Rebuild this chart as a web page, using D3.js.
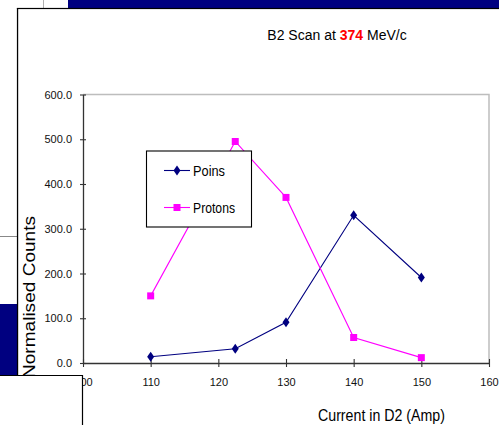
<!DOCTYPE html>
<html>
<head>
<meta charset="utf-8">
<script src="https://cdn.jsdelivr.net/npm/d3@7/dist/d3.min.js"></script>
<style>
  html, body { margin: 0; padding: 0; background: #fff; }
  svg { display: block; font-family: "Liberation Sans", Arial, sans-serif; }
</style>
</head>
<body>
<svg id="chart" width="499" height="425"></svg>
<script>
// Beam-line D2 current scan, normalised counts per particle type
const currents = [110, 122.5, 130, 140, 150];
const pions = [14, 32, 91, 330, 191];
const protons = [150, 495, 370, 57, 12];
const xTicks = [100, 110, 120, 130, 140, 150, 160];
const yTicks = [0, 100, 200, 300, 400, 500, 600];
const seriesNames = ["Poins", "Protons"];
const seriesColors = ["#000080", "#ff00ff"];

const svg = d3.select("#chart");

// slide furniture around the chart frame
svg.append("rect").attr("x", 68).attr("y", 0).attr("width", 431).attr("height", 8).attr("fill", "#000080");
svg.append("line").attr("x1", 43.5).attr("x2", 43.5).attr("y1", 0).attr("y2", 8).attr("stroke", "#b0b0b0");

// chart frame
svg.append("rect").attr("x", 17.5).attr("y", 8.5).attr("width", 490).attr("height", 430)
  .attr("fill", "#fff").attr("stroke", "#000").attr("stroke-width", 1.2);

const x = d3.scaleLinear().domain([100, 160]).range([83, 489]);
const y = d3.scaleLinear().domain([0, 600]).range([363, 94.5]);

// plot area border (top / right)
svg.append("path")
  .attr("d", `M${x(100)},${y(600)}H${x(160)}V${y(0)}`)
  .attr("fill", "none").attr("stroke", "#bdbdbd").attr("stroke-width", 1.5);

// title
const title = svg.append("text").attr("x", 337).attr("y", 40).attr("text-anchor", "middle")
  .attr("font-size", 14).attr("fill", "#000");
title.append("tspan").text("B2 Scan at ");
title.append("tspan").attr("fill", "#ff0000").attr("font-weight", "bold").text("374");
title.append("tspan").text(" MeV/c");

// axes
const yAxis = d3.axisLeft(y).tickValues(yTicks).tickFormat(d3.format(".1f"))
  .tickSizeInner(3).tickSizeOuter(0).tickPadding(8);
const gy = svg.append("g").attr("transform", `translate(${x(100)},0)`).call(yAxis);
gy.selectAll(".tick line").attr("x2", 3).attr("x1", -3);
const xAxis = d3.axisBottom(x).tickValues(xTicks).tickFormat(d3.format("d"))
  .tickSizeInner(4).tickSizeOuter(0).tickPadding(11);
const gx = svg.append("g").attr("transform", `translate(0,${y(0)})`).call(xAxis);
gx.selectAll(".tick line").attr("y1", -4).attr("y2", 4);
[gx, gy].forEach(g => {
  g.select(".domain").attr("stroke", "#333").attr("stroke-width", 1.3);
  g.selectAll(".tick line").attr("stroke", "#333").attr("stroke-width", 1.1);
  g.selectAll("text").attr("font-size", 11).attr("fill", "#111")
    .attr("font-family", "\"Liberation Sans\", Arial, sans-serif");
});

// axis titles
svg.append("text").attr("x", 381.5).attr("y", 421).attr("text-anchor", "middle")
  .attr("font-size", 16).attr("textLength", 127).attr("lengthAdjust", "spacingAndGlyphs")
  .attr("fill", "#000").text("Current in D2 (Amp)");
svg.append("text").attr("transform", "translate(35,297) rotate(-90)").attr("text-anchor", "middle")
  .attr("font-size", 16).attr("textLength", 162).attr("lengthAdjust", "spacingAndGlyphs")
  .attr("fill", "#000").text("Normalised Counts");

// series
const series = [pions, protons];
const line = d3.line().x((d, i) => x(currents[i])).y(d => y(d));
const diamond = "M0,-5L3.5,0L0,5L-3.5,0Z";
const square = "M-3.5,-3.5H3.5V3.5H-3.5Z";
const shapes = [diamond, square];

series.forEach((vals, s) => {
  svg.append("path").datum(vals).attr("d", line)
    .attr("fill", "none").attr("stroke", seriesColors[s]).attr("stroke-width", 1.1);
  svg.append("g").selectAll("path").data(vals).join("path")
    .attr("transform", (d, i) => `translate(${x(currents[i])},${y(d)})`)
    .attr("d", shapes[s]).attr("fill", seriesColors[s]);
});

// legend
const legendWidths = [32, 42];
const lg = svg.append("g");
lg.append("rect").attr("x", 146.5).attr("y", 151).attr("width", 105).attr("height", 76)
  .attr("fill", "#fff").attr("stroke", "#000").attr("stroke-width", 1.1);
seriesNames.forEach((name, s) => {
  const ly = 170.5 + s * 37;
  lg.append("line").attr("x1", 164).attr("x2", 190).attr("y1", ly).attr("y2", ly)
    .attr("stroke", seriesColors[s]).attr("stroke-width", 1.1);
  lg.append("path").attr("transform", `translate(177,${ly})`).attr("d", shapes[s]).attr("fill", seriesColors[s]);
  lg.append("text").attr("x", 193).attr("y", ly + 5.5).attr("font-size", 14)
    .attr("textLength", legendWidths[s]).attr("lengthAdjust", "spacingAndGlyphs")
    .attr("fill", "#000").text(name);
});

// surrounding slide elements at the left edge
svg.append("rect").attr("x", 0).attr("y", 9).attr("width", 17).attr("height", 366).attr("fill", "#fff");
svg.append("line").attr("x1", 0).attr("x2", 17).attr("y1", 236.5).attr("y2", 236.5).attr("stroke", "#888");
svg.append("rect").attr("x", 0).attr("y", 304).attr("width", 17).attr("height", 71).attr("fill", "#000080");
svg.append("line").attr("x1", 17.5).attr("x2", 17.5).attr("y1", 8).attr("y2", 375).attr("stroke", "#000").attr("stroke-width", 1.2);
svg.append("path").attr("d", "M0,375.5H82.5V425H0Z").attr("fill", "#fff").attr("stroke", "none");
svg.append("path").attr("d", "M0,375.5H82.5V425").attr("fill", "none").attr("stroke", "#000").attr("stroke-width", 1.2);
</script>
</body>
</html>
